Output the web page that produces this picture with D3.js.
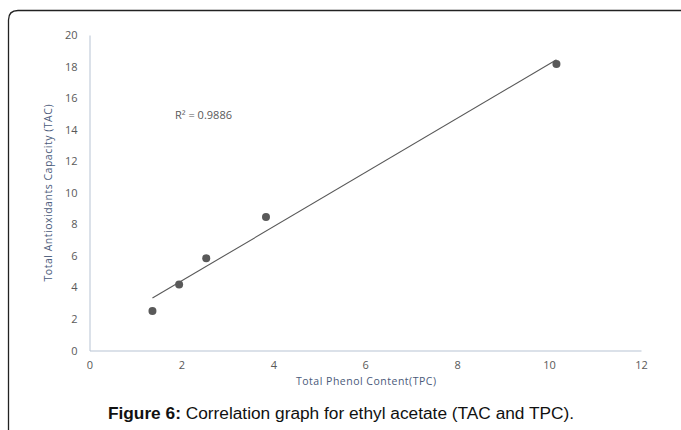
<!DOCTYPE html>
<html><head><meta charset="utf-8">
<script src="https://cdn.jsdelivr.net/npm/d3@7"></script>
<style>body{margin:0;background:#fff;}svg{display:block;}</style>
</head><body><svg id="c" width="681" height="430"></svg>
<script>
const tpc = [1.37, 1.95, 2.54, 3.84, 10.16];
const tac = [2.5, 4.19, 5.84, 8.46, 18.16];
const xTicks = [0, 2, 4, 6, 8, 10, 12];
const yTicks = [0, 2, 4, 6, 8, 10, 12, 14, 16, 18, 20];
const trendSlope = 1.718;
const trendIntercept = 0.97;
const r2Label = "R² = 0.9886";
const xTitle = "Total Phenol Content(TPC)";
const yTitle = "Total Antioxidants Capacity (TAC)";

const svg = d3.select("#c");
const font = "Open Sans, Noto Sans, sans-serif";
const grey = "#595959";
const axisCol = "#b7c3d3";

// frame
svg.append("path").attr("d","M8.5,440 L8.5,20 Q8.5,10.5 18,10.5 L700,10.5")
  .attr("fill","none").attr("stroke","#222").attr("stroke-width",1.3);

const x = d3.scaleLinear().domain([0,12]).range([89.5,641]);
const y = d3.scaleLinear().domain([0,20]).range([350.5,35]);

const xa = svg.append("g").attr("transform",`translate(0,${y(0)})`)
  .call(d3.axisBottom(x).tickValues(xTicks).tickSize(0).tickPadding(11));
const ya = svg.append("g").attr("transform",`translate(${x(0)},0)`)
  .call(d3.axisLeft(y).tickValues(yTicks).tickSize(0).tickPadding(12));
[xa,ya].forEach(a=>{
  a.select(".domain").attr("stroke",axisCol).attr("stroke-width",1);
  a.selectAll("text").attr("fill",grey).attr("font-family",font).attr("font-size",11);
});

const pts = tpc.map((v,i)=>[v,tac[i]]);
const xmin = d3.min(tpc), xmax = d3.max(tpc);
svg.append("line")
  .attr("x1",x(xmin)).attr("y1",y(trendSlope*xmin+trendIntercept))
  .attr("x2",x(xmax)).attr("y2",y(trendSlope*xmax+trendIntercept))
  .attr("stroke",grey).attr("stroke-width",1.1);

svg.selectAll("circle.pt").data(pts).join("circle").attr("class","pt")
  .attr("cx",d=>x(d[0])).attr("cy",d=>y(d[1])).attr("r",4).attr("fill",grey);

svg.append("text").attr("x",175).attr("y",119).text(r2Label)
  .attr("fill",grey).attr("font-family",font).attr("font-size",11);

svg.append("text").attr("x",366).attr("y",385).attr("text-anchor","middle").text(xTitle)
  .attr("fill","#4a5a7a").attr("font-family",font).attr("font-size",10.5).attr("textLength",140);
svg.append("text").attr("transform",`translate(52,193) rotate(-90)`).attr("text-anchor","middle").text(yTitle)
  .attr("fill","#4a5a7a").attr("font-family",font).attr("font-size",10.5).attr("textLength",177);

const cap = svg.append("text").attr("x",341).attr("y",419).attr("text-anchor","middle")
  .attr("font-family","Liberation Sans, Arial, sans-serif").attr("font-size",17.3).attr("fill","#111");
cap.append("tspan").attr("font-weight","bold").text("Figure 6:");
cap.append("tspan").text(" Correlation graph for ethyl acetate (TAC and TPC).");
</script></body></html>
